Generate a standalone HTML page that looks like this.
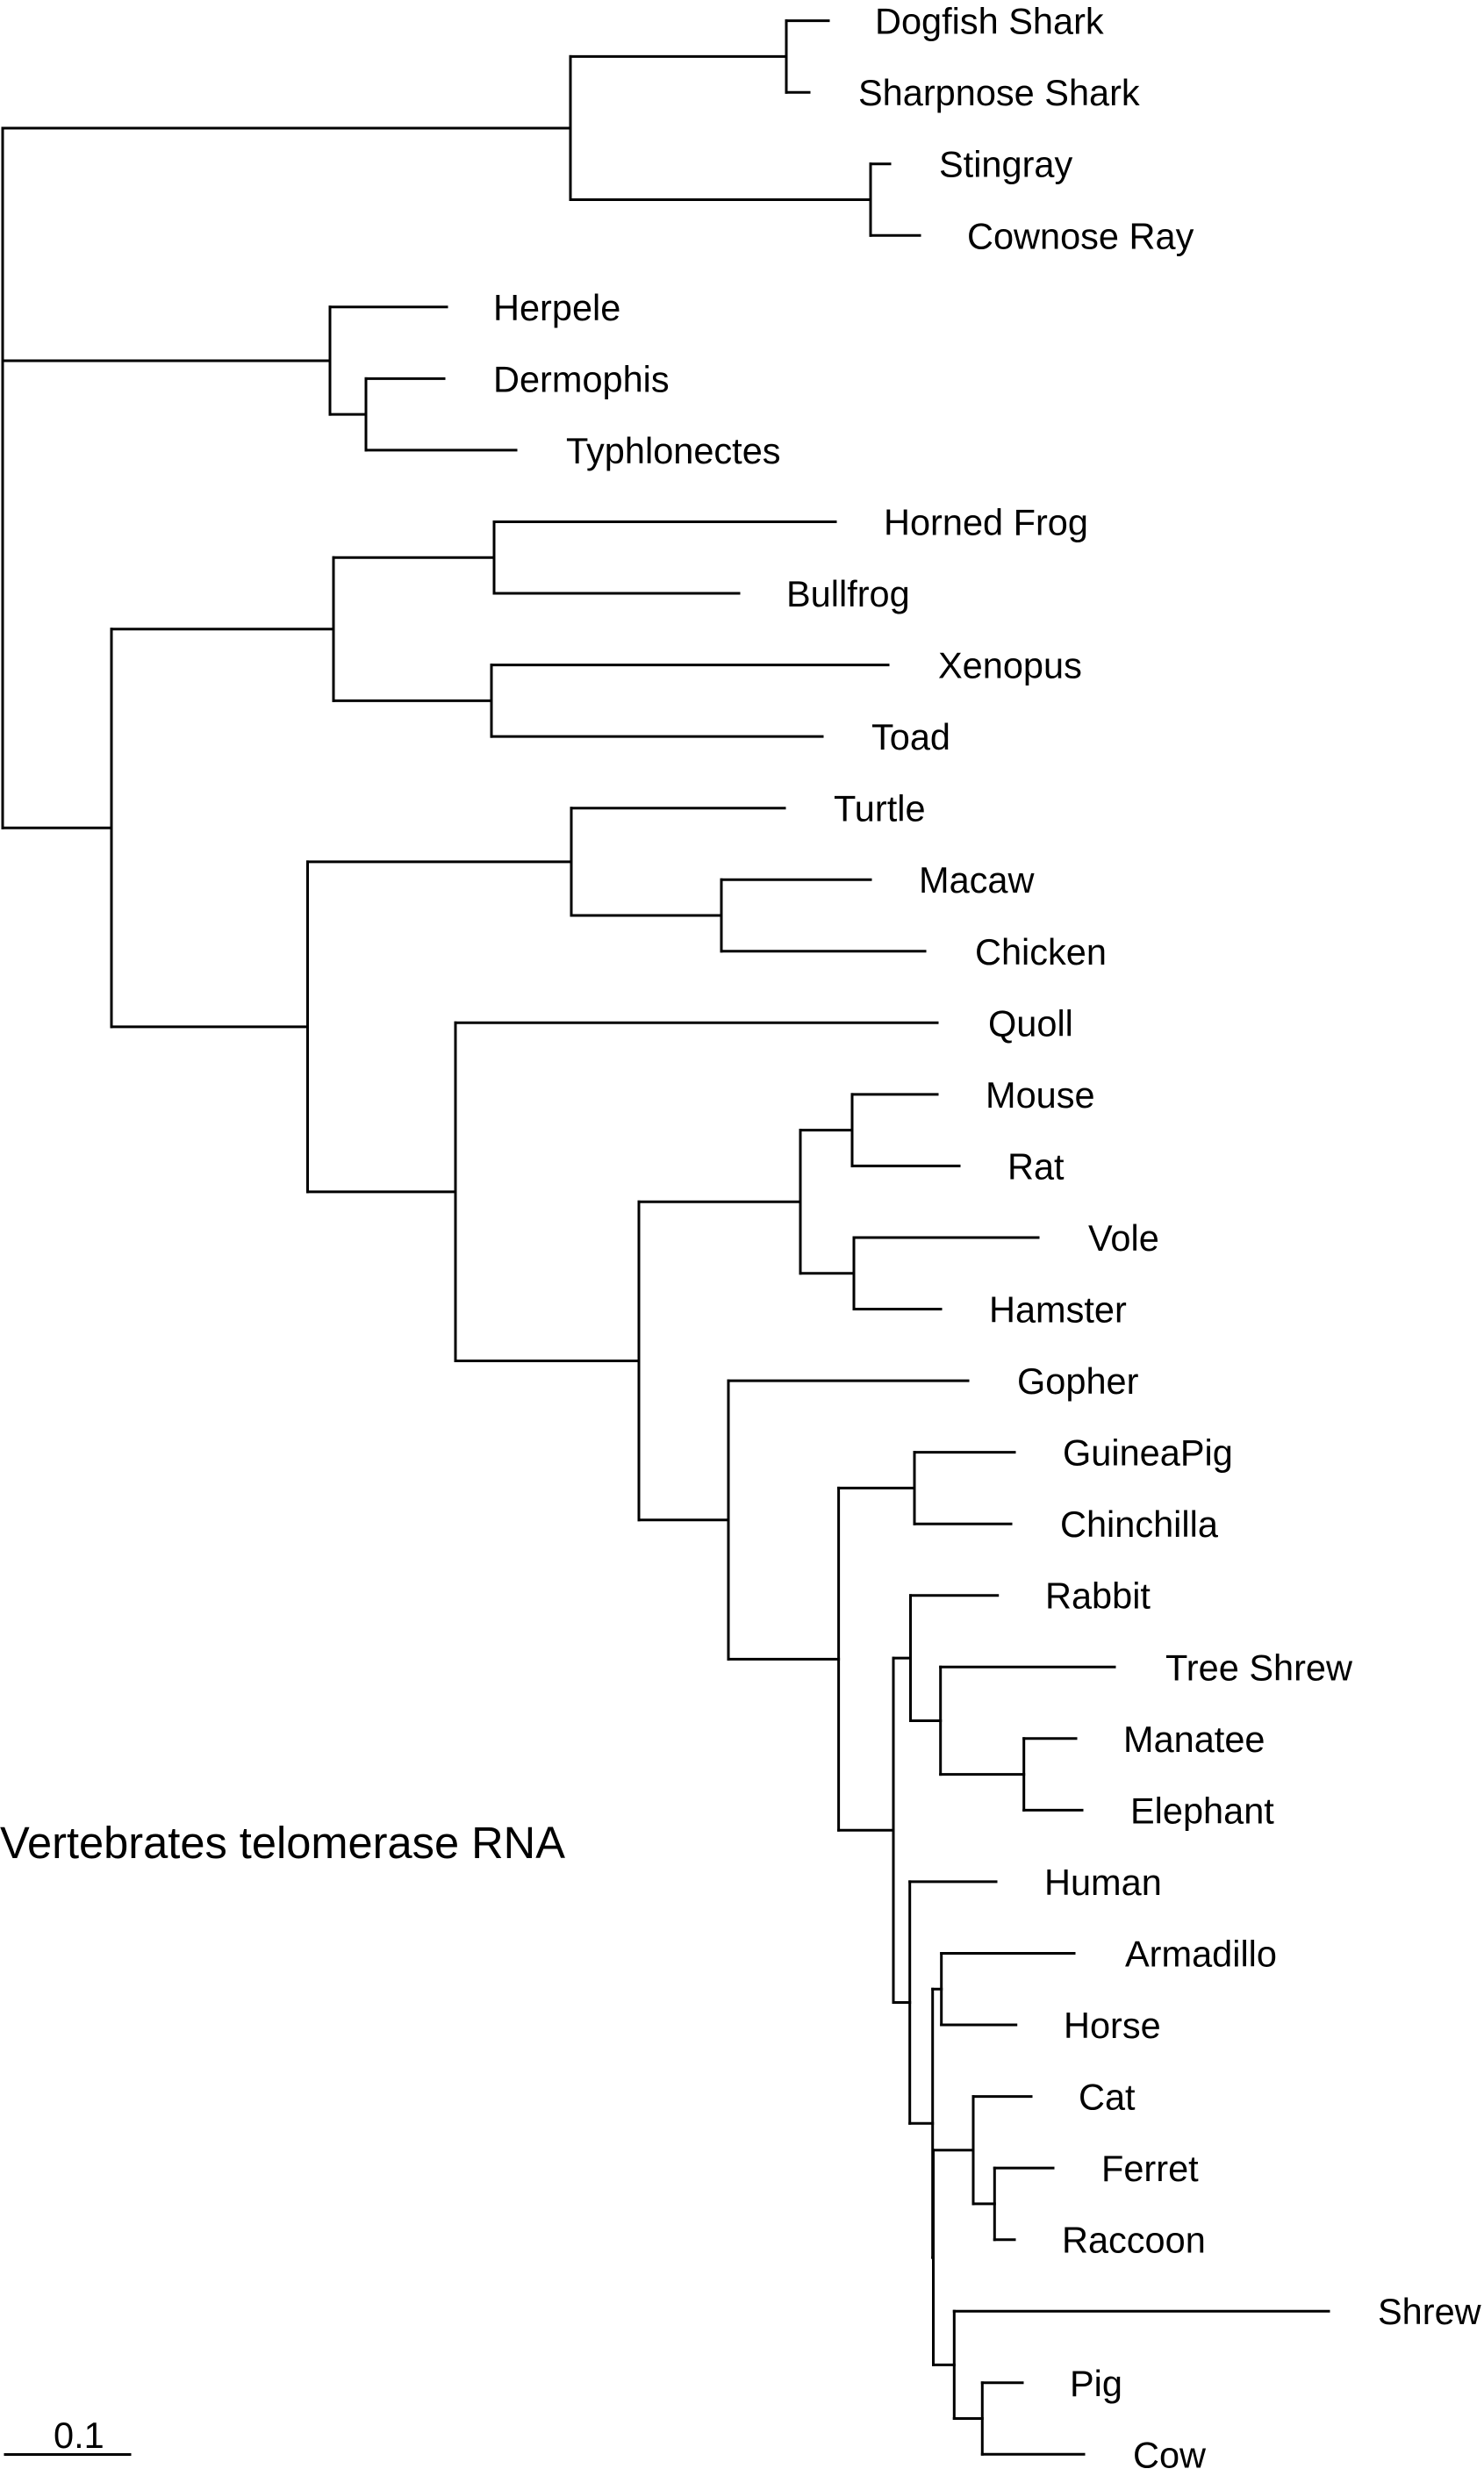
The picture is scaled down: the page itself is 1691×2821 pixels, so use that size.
<!DOCTYPE html>
<html>
<head>
<meta charset="utf-8">
<style>
  html, body { margin: 0; padding: 0; background: #ffffff; }
  svg { display: block; }
  text { font-family: "Liberation Sans", Arial, sans-serif; fill: #000; }
</style>
</head>
<body>
<svg xmlns="http://www.w3.org/2000/svg" width="1691" height="2821" viewBox="0 0 1691 2821">
  <rect x="0" y="0" width="1691" height="2821" fill="#ffffff"/>
  <g stroke="#000" stroke-width="3" fill="none" stroke-linecap="square">
    <!-- vertical node lines -->
    <path d="
      M3 145.95 V943.3
      M650 64.4 V227.5
      M896 23.6 V105.2
      M992 186.7 V268.3
      M376 349.8 V472.15
      M417 431.4 V512.9
      M127 716.8 V1169.9
      M380 635.25 V798.35
      M563 594.5 V676
      M560 757.6 V839.1
      M350.5 981.85 V1357.9
      M651 920.7 V1043
      M822 1002.2 V1083.8
      M519 1165.3 V1550.5
      M728 1369.2 V1731.7
      M912 1287.65 V1450.75
      M971 1246.9 V1328.4
      M973 1410 V1491.5
      M830 1573.1 V1890.35
      M955.6 1695.4 V2085.3
      M1042 1654.6 V1736.2
      M1018 1889.1 V2281.5
      M1037.5 1817.7 V1960.45
      M1071.7 1899.3 V2021.6
      M1166.7 1980.8 V2062.4
      M1036.7 2143.9 V2419.2
      M1062.7 2266.25 V2572.1
      M1072.7 2225.5 V2307
      M1063.5 2449.75 V2694.4
      M1109 2388.6 V2510.9
      M1133.3 2470.1 V2551.7
      M1087.3 2633.2 V2755.55
      M1119.3 2714.8 V2796.3
    "/>
    <!-- horizontal branch lines -->
    <path d="
      M3 145.95 H650
      M3 411 H376
      M3 943.3 H127
      M650 64.4 H896
      M650 227.5 H992
      M896 23.6 H944
      M896 105.2 H922
      M992 186.7 H1014
      M992 268.3 H1048
      M376 349.8 H509
      M376 472.15 H417
      M417 431.4 H506
      M417 512.9 H588
      M127 716.8 H380
      M127 1169.9 H350.5
      M380 635.25 H563
      M380 798.35 H560
      M563 594.5 H952
      M563 676 H842
      M560 757.6 H1012
      M560 839.1 H937
      M350.5 981.85 H651
      M350.5 1357.9 H519
      M651 920.7 H894
      M651 1043 H822
      M822 1002.2 H992
      M822 1083.8 H1054
      M519 1165.3 H1068
      M519 1550.5 H728
      M728 1369.2 H912
      M728 1731.7 H830
      M912 1287.65 H971
      M912 1450.75 H973
      M971 1246.9 H1068
      M971 1328.4 H1093
      M973 1410 H1183
      M973 1491.5 H1072
      M830 1573.1 H1103
      M830 1890.35 H955.6
      M955.6 1695.4 H1042
      M955.6 2085.3 H1018
      M1042 1654.6 H1156
      M1042 1736.2 H1152
      M1018 1889.1 H1037.5
      M1018 2281.5 H1036.7
      M1037.5 1817.7 H1136.7
      M1037.5 1960.45 H1071.7
      M1071.7 1899.3 H1270
      M1071.7 2021.6 H1166.7
      M1166.7 1980.8 H1226
      M1166.7 2062.4 H1233
      M1036.7 2143.9 H1135
      M1036.7 2419.2 H1062.7
      M1062.7 2266.25 H1072.7
      M1062.7 2572.1 H1063.5
      M1072.7 2225.5 H1224
      M1072.7 2307 H1157.7
      M1063.5 2449.75 H1109
      M1063.5 2694.4 H1087.3
      M1109 2388.6 H1175
      M1109 2510.9 H1133.3
      M1133.3 2470.1 H1200
      M1133.3 2551.7 H1156
      M1087.3 2633.2 H1514
      M1087.3 2755.55 H1119.3
      M1119.3 2714.8 H1165
      M1119.3 2796.3 H1235
    "/>
    <!-- scale bar -->
    <path d="M6 2796.5 H148"/>
  </g>

  <g font-size="41.5">
    <text x="997" y="38.6">Dogfish Shark</text>
    <text x="978" y="120.2">Sharpnose Shark</text>
    <text x="1070" y="201.7">Stingray</text>
    <text x="1102" y="283.3">Cownose Ray</text>
    <text x="562" y="364.8">Herpele</text>
    <text x="562" y="446.4">Dermophis</text>
    <text x="645" y="527.9">Typhlonectes</text>
    <text x="1007" y="609.5">Horned Frog</text>
    <text x="896" y="691">Bullfrog</text>
    <text x="1069" y="772.6">Xenopus</text>
    <text x="993" y="854.1">Toad</text>
    <text x="950" y="935.7">Turtle</text>
    <text x="1047" y="1017.2">Macaw</text>
    <text x="1111" y="1098.8">Chicken</text>
    <text x="1126" y="1180.3">Quoll</text>
    <text x="1123" y="1261.9">Mouse</text>
    <text x="1148" y="1343.4">Rat</text>
    <text x="1240" y="1425">Vole</text>
    <text x="1127" y="1506.5">Hamster</text>
    <text x="1159" y="1588.1">Gopher</text>
    <text x="1211" y="1669.6">GuineaPig</text>
    <text x="1208" y="1751.2">Chinchilla</text>
    <text x="1191" y="1832.7">Rabbit</text>
    <text x="1328" y="1914.3">Tree Shrew</text>
    <text x="1280" y="1995.8">Manatee</text>
    <text x="1288" y="2077.4">Elephant</text>
    <text x="1190" y="2158.9">Human</text>
    <text x="1282" y="2240.5">Armadillo</text>
    <text x="1212" y="2322">Horse</text>
    <text x="1229" y="2403.6">Cat</text>
    <text x="1255" y="2485.1">Ferret</text>
    <text x="1210" y="2566.7">Raccoon</text>
    <text x="1570" y="2648.2">Shrew</text>
    <text x="1219" y="2729.8">Pig</text>
    <text x="1291" y="2811.3">Cow</text>
    <text x="61" y="2789">0.1</text>
  </g>

  <text x="0" y="2117" font-size="50.6">Vertebrates telomerase RNA</text>
</svg>
</body>
</html>
